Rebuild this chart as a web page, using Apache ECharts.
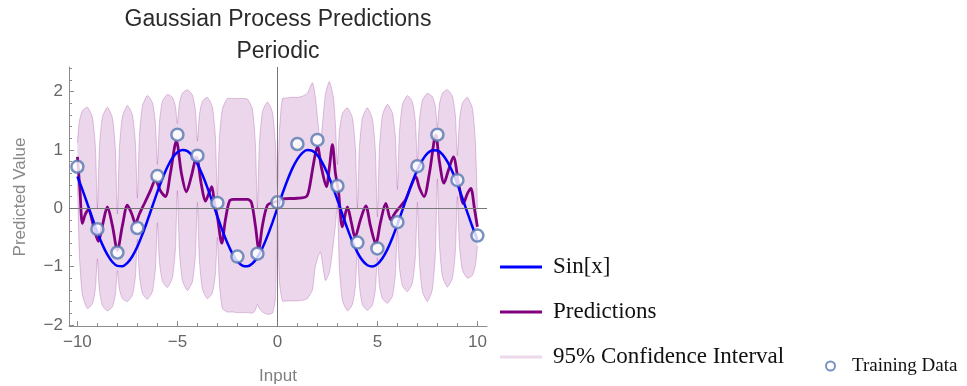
<!DOCTYPE html>
<html><head><meta charset="utf-8">
<script src="https://cdn.jsdelivr.net/npm/echarts@6/dist/echarts.min.js"></script>
<style>html,body{margin:0;padding:0;background:#fff}#c{width:967px;height:386px}</style>
</head><body><div id="c"></div>
<script>
// ---------- data ----------
const sinX = [-10,-9.75,-9.5,-9.25,-9,-8.75,-8.5,-8.25,-8,-7.75,-7.5,-7.25,-7,-6.75,-6.5,-6.25,-6,-5.75,-5.5,-5.25,-5,-4.75,-4.5,-4.25,-4,-3.75,-3.5,-3.25,-3,-2.75,-2.5,-2.25,-2,-1.75,-1.5,-1.25,-1,-0.75,-0.5,-0.25,0,0.25,0.5,0.75,1,1.25,1.5,1.75,2,2.25,2.5,2.75,3,3.25,3.5,3.75,4,4.25,4.5,4.75,5,5.25,5.5,5.75,6,6.25,6.5,6.75,7,7.25,7.5,7.75,8,8.25,8.5,8.75,9,9.25,9.5,9.75,10];
const sinY = [0.544,0.319,0.075,-0.173,-0.412,-0.625,-0.798,-0.923,-0.989,-0.994,-0.938,-0.824,-0.657,-0.450,-0.215,0.033,0.279,0.508,0.706,0.859,0.959,0.999,0.978,0.895,0.757,0.572,0.351,0.108,-0.141,-0.382,-0.598,-0.778,-0.909,-0.984,-0.997,-0.949,-0.841,-0.682,-0.479,-0.247,0,0.247,0.479,0.682,0.841,0.949,0.997,0.984,0.909,0.778,0.598,0.382,0.141,-0.108,-0.351,-0.572,-0.757,-0.895,-0.978,-0.999,-0.959,-0.859,-0.706,-0.508,-0.279,-0.033,0.215,0.450,0.657,0.824,0.938,0.994,0.989,0.923,0.798,0.625,0.412,0.173,-0.075,-0.319,-0.544];

const predX = [-10,-9.87,-9.75,-9.6,-9.45,-9.2,-8.95,-8.75,-8.5,-8.25,-8,-7.75,-7.5,-7.28,-7.1,-6.9,-6.65,-6.35,-6.1,-5.85,-5.6,-5.35,-5.05,-4.8,-4.55,-4.3,-4.05,-3.8,-3.6,-3.4,-3.28,-3.15,-3,-2.78,-2.6,-2.4,-2.2,-1.5,-1.3,-1.1,-0.93,-0.75,-0.5,-0.2,0,0.2,1,1.45,1.6,1.8,2,2.2,2.45,2.6,2.75,2.9,3.05,3.25,3.5,3.7,3.88,4.15,4.42,4.65,4.92,5.15,5.42,5.67,5.85,6,6.4,6.65,6.92,7.1,7.33,7.6,7.92,8.1,8.33,8.55,8.8,9.05,9.3,9.5,9.67,9.85,10];
const predY = [0.88,0.3,-0.26,-0.1,-0.03,-0.3,-0.57,-0.3,0.02,-0.3,-0.72,-0.3,0.05,-0.1,-0.26,-0.1,0.08,0.3,0.48,0.3,0.2,0.6,1.15,0.6,0.28,0.55,0.88,0.4,0.12,0.28,0.37,0.1,-0.15,-0.6,-0.2,0.12,0.15,0.15,0.1,-0.3,-0.7,-0.3,0.05,0.1,0.12,0.16,0.17,0.2,0.35,0.75,1.06,0.7,0.37,0.7,1.09,0.6,0.3,-0.32,0.02,-0.25,-0.5,-0.2,0.04,-0.3,-0.61,-0.25,0.08,-0.2,-0.1,-0.03,0.14,0.35,0.54,0.35,0.2,0.6,1.25,0.8,0.43,0.65,0.88,0.45,0.08,0.25,0.34,0,-0.32];

const bandX = [
  -10,-9.9,-9.75,-9.5,-9.25,-9.1, -9,-8.9,-8.75,-8.5,-8.25,-8.1, -8,-7.9,-7.75,-7.5,-7.25,-7.1,
  -7,-6.9,-6.75,-6.5,-6.25,-6.1, -6,-5.9,-5.75,-5.5,-5.25,-5.1, -5,-4.9,-4.75,-4.5,-4.25,-4.1,
  -4,-3.9,-3.75,-3.5,-3.25,-3.1,
  -3,-2.9,-2.75,-2.5,-2.25,-2,-1.75,-1.5,-1.25,-1.1,-1,-0.9,-0.75,-0.5,-0.25,-0.1,0,0.1,0.25,0.5,0.75,1,1.25,1.5,1.75,1.9,2.15,2.4,2.6,2.8,2.9,
  3,3.1,3.25,3.5,3.75,3.9, 4,4.1,4.25,4.5,4.75,4.9, 5,5.1,5.25,5.5,5.75,5.9, 6,6.1,6.25,6.5,6.75,6.9,
  7,7.1,7.25,7.5,7.75,7.9, 8,8.1,8.25,8.5,8.75,8.9, 9,9.1,9.25,9.5,9.75,9.9, 10];
const bandUpper = [
  1.12,1.49,1.67,1.73,1.56,1.04, 0.0,1.04,1.56,1.73,1.55,1.0, -0.1,1.02,1.57,1.76,1.6,1.12,
  0.17,1.23,1.75,1.93,1.81,1.46, 0.75,1.47,1.83,1.95,1.9,1.75, 1.45,1.8,1.97,2.03,1.94,1.68,
  1.15,1.6,1.83,1.9,1.73,1.22,
  0.2,1.2,1.7,1.88,1.88,1.88,1.88,1.87,1.7,1.1,0.0,1.1,1.65,1.82,1.65,1.1,0.35,1.3,1.88,1.89,1.9,1.9,1.92,1.97,2.15,1.9,1.15,1.95,2.17,1.9,1.45,
  0.75,1.33,1.62,1.72,1.55,1.03, 0.0,1.03,1.55,1.72,1.53,0.97, -0.15,1.01,1.59,1.78,1.63,1.2, 0.32,1.29,1.77,1.93,1.82,1.48,
  0.8,1.5,1.85,1.97,1.91,1.74, 1.4,1.78,1.97,2.03,1.92,1.58, 0.9,1.5,1.8,1.9,1.71,1.14, 0.0];
const bandLower = [
  0.55,-0.81,-1.49,-1.72,-1.64,-1.38, -0.87,-1.4,-1.67,-1.76,-1.69,-1.48, -1.07,-1.39,-1.55,-1.6,-1.49,-1.17,
  -0.53,-1.15,-1.46,-1.56,-1.43,-1.04, -0.25,-0.92,-1.25,-1.36,-1.19,-0.7, 0.3,-0.73,-1.24,-1.41,-1.26,-0.81,
  0.1,-0.89,-1.39,-1.55,-1.45,-1.13,
  -0.5,-1.3,-1.72,-1.78,-1.78,-1.79,-1.79,-1.79,-1.8,-1.75,-1.65,-1.72,-1.78,-1.82,-1.8,-1.55,-0.15,-1.25,-1.59,-1.59,-1.59,-1.59,-1.58,-1.55,-1.4,-1.0,-0.75,-1.24,-1.1,-0.6,-0.3,
  0.05,-1.04,-1.58,-1.76,-1.65,-1.34, -0.7,-1.33,-1.65,-1.75,-1.66,-1.39, -0.85,-1.32,-1.55,-1.63,-1.51,-1.13, -0.38,-1.01,-1.33,-1.43,-1.28,-0.82,
  0.1,-0.92,-1.43,-1.6,-1.39,-0.76, 0.5,-0.61,-1.17,-1.35,-1.2,-0.73, 0.2,-0.64,-1.06,-1.2,-1.15,-0.98, -0.65];

const trainX = [-10,-9,-8,-7,-6,-5,-4,-3,-2,-1,0,1,2,3,4,5,6,7,8,9,10];
const trainY = [0.71,-0.36,-0.76,-0.34,0.55,1.26,0.9,0.09,-0.83,-0.78,0.1,1.1,1.17,0.38,-0.59,-0.69,-0.24,0.72,1.26,0.48,-0.47];

const xTicks = [-10,-5,0,5,10];
const xMinorTicks = [-9,-8,-7,-6,-4,-3,-2,-1,1,2,3,4,6,7,8,9];
const yTicks = [-2,-1,0,1,2];
const yMinorTicks = [-1.8,-1.6,-1.4,-1.2,-0.8,-0.6,-0.4,-0.2,0.2,0.4,0.6,0.8,1.2,1.4,1.6,1.8,2.2,2.4];

// ---------- chart ----------
const SANS = '"Liberation Sans", Arial, sans-serif';
const SERIF = '"Liberation Serif", "Times New Roman", serif';
const AX = '#8c8c8c';
const fmt = v => (v < 0 ? '\u2212' + Math.abs(v) : String(v));
const XMIN = -10.42, XMAX = 10.48, YMIN = -2.02, YMAX = 2.42;

const chart = echarts.init(document.getElementById('c'), null, {renderer: 'canvas'});
chart.setOption({
  animation: false,
  backgroundColor: '#fff',
  grid: {left: 69, top: 67, width: 418, height: 259, containLabel: false},
  xAxis: [
    {type: 'value', min: XMIN, max: XMAX, position: 'bottom',
     axisLine: {show: true, onZero: false, lineStyle: {color: AX, width: 1}},
     axisTick: {show: true, inside: true, length: 5, customValues: xTicks, lineStyle: {color: AX}},
     axisLabel: {show: true, customValues: xTicks, formatter: fmt, color: '#666', fontSize: 17, fontFamily: SANS, margin: 8},
     splitLine: {show: false}},
    {type: 'value', min: XMIN, max: XMAX, position: 'bottom',
     axisLine: {show: false, onZero: false},
     axisTick: {show: true, inside: true, length: 3, customValues: xMinorTicks, lineStyle: {color: AX}},
     axisLabel: {show: false}, splitLine: {show: false}}
  ],
  yAxis: [
    {type: 'value', min: YMIN, max: YMAX, position: 'left',
     axisLine: {show: true, onZero: false, lineStyle: {color: AX, width: 1}},
     axisTick: {show: true, inside: true, length: 5, customValues: yTicks, lineStyle: {color: AX}},
     axisLabel: {show: true, customValues: yTicks, formatter: fmt, color: '#666', fontSize: 17, fontFamily: SANS, margin: 6},
     splitLine: {show: false}},
    {type: 'value', min: YMIN, max: YMAX, position: 'left', offset: 0,
     axisLine: {show: false, onZero: false},
     axisTick: {show: true, inside: true, length: 3, customValues: yMinorTicks, lineStyle: {color: AX}},
     axisLabel: {show: false}, splitLine: {show: false}}
  ],
  legend: [
    {orient: 'vertical', left: 500, top: 255, padding: 0, itemWidth: 42, itemHeight: 3, itemGap: 21,
     icon: 'rect', selectedMode: false, itemStyle: {borderWidth: 0},
     textStyle: {fontFamily: SERIF, fontSize: 23, color: '#111', lineHeight: 24, padding: [0, 0, 0, 6]},
     data: [
       {name: 'Sin[x]', itemStyle: {color: '#0000ff', borderWidth: 0}},
       {name: 'Predictions', itemStyle: {color: '#800080', borderWidth: 0}},
       {name: '95% Confidence Interval', itemStyle: {color: '#ecd9ec', borderWidth: 0}}
     ]},
    {orient: 'vertical', left: 825, top: 356, padding: 0, itemWidth: 9, itemHeight: 9,
     icon: 'circle', selectedMode: false,
     textStyle: {fontFamily: SERIF, fontSize: 19, color: '#111', lineHeight: 20, padding: [0, 0, 0, 12]},
     data: [{name: 'Training Data', itemStyle: {color: '#fff', borderColor: '#5878b0', borderWidth: 2}}]}
  ],
  graphic: [
    {type: 'text', x: 278, y: 20, silent: true, style: {text: 'Gaussian Process Predictions', align: 'center', verticalAlign: 'middle', fontSize: 23, fontFamily: SANS, fill: '#2a2a2a'}},
    {type: 'text', x: 278, y: 52, silent: true, style: {text: 'Periodic', align: 'center', verticalAlign: 'middle', fontSize: 23, fontFamily: SANS, fill: '#2a2a2a'}},
    {type: 'text', x: 278, y: 376, silent: true, style: {text: 'Input', align: 'center', verticalAlign: 'middle', fontSize: 17, fontFamily: SANS, fill: '#808080'}},
    {type: 'text', x: 20, y: 197, rotation: Math.PI / 2, silent: true, style: {text: 'Predicted Value', align: 'center', verticalAlign: 'middle', fontSize: 17, fontFamily: SANS, fill: '#888'}}
  ],
  series: [
    {name: '95% Confidence Interval', type: 'custom', z: 1, silent: true,
     data: [0],
     renderItem: function (params, api) {
       if (params.dataIndex !== 0) return;
       const up = bandX.map((x, i) => api.coord([x, bandUpper[i]]));
       const lo = bandX.map((x, i) => api.coord([x, bandLower[i]]));
       const poly = up.concat(lo.slice().reverse());
       return {type: 'group', children: [
         {type: 'polygon', shape: {points: poly, smooth: 0.2}, style: {fill: 'rgba(128,0,128,0.16)', stroke: null}},
         {type: 'polyline', shape: {points: up, smooth: 0.2}, style: {fill: null, stroke: 'rgba(128,0,128,0.22)', lineWidth: 1}},
         {type: 'polyline', shape: {points: lo, smooth: 0.2}, style: {fill: null, stroke: 'rgba(128,0,128,0.22)', lineWidth: 1}}
       ]};
     }},
    {name: 'Predictions', type: 'line', z: 2, symbol: 'none', smooth: 0.3,
     data: predX.map((x, i) => [x, predY[i]]),
     lineStyle: {color: '#800080', width: 2.8}, itemStyle: {color: '#800080'},
     markLine: {silent: true, symbol: 'none', label: {show: false},
       lineStyle: {color: '#777', width: 1, type: 'solid'},
       data: [{xAxis: 0}, {yAxis: 0}]}},
    {name: 'Sin[x]', type: 'line', z: 3, symbol: 'none', smooth: 0.3,
     data: sinX.map((x, i) => [x, sinY[i]]),
     lineStyle: {color: '#0000ff', width: 2.5}, itemStyle: {color: '#0000ff'}},
    {name: 'Training Data', type: 'scatter', z: 4, symbol: 'circle', symbolSize: 12,
     data: trainX.map((x, i) => [x, trainY[i]]),
     itemStyle: {color: '#ffffff', borderColor: '#5878b0', borderWidth: 2.5}}
  ]
});
</script>
</body></html>
